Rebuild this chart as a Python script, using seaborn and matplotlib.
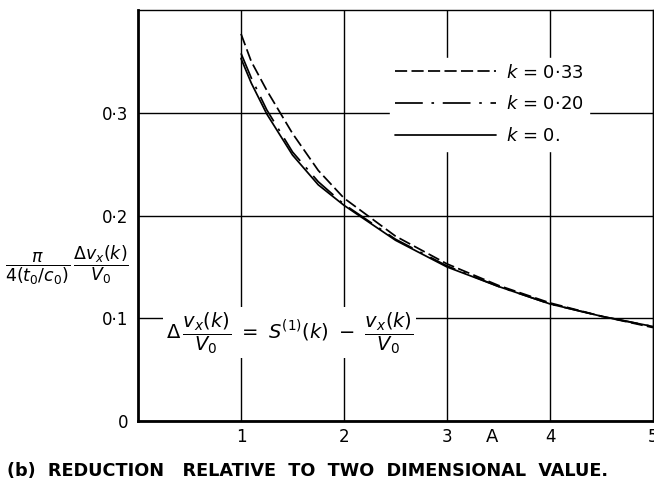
import matplotlib
matplotlib.use("Agg")
import matplotlib.pyplot as plt
import seaborn as sns
import pandas as pd

sns.set_theme(style="white")
plt.rcParams["font.family"] = ["DejaVu Sans"]
plt.rcParams["mathtext.fontset"] = "dejavusans"
plt.rcParams["text.color"] = "black"

# Aspect ratio A and reduced velocity increment for three values of k
aspect = [1.0, 1.1, 1.25, 1.5, 1.75, 2.0, 2.5, 3.0, 3.5, 4.0, 4.5, 5.0]
dv_k033 = [0.377, 0.350, 0.322, 0.280, 0.244, 0.217, 0.180, 0.153, 0.132, 0.115, 0.102, 0.091]
dv_k020 = [0.358, 0.334, 0.303, 0.262, 0.233, 0.211, 0.177, 0.151, 0.131, 0.114, 0.102, 0.092]
dv_k000 = [0.353, 0.329, 0.299, 0.259, 0.230, 0.210, 0.176, 0.150, 0.131, 0.114, 0.102, 0.092]

series_labels = [r"$k$ = 0·33", r"$k$ = 0·20", r"$k$ = 0."]
series_values = [dv_k033, dv_k020, dv_k000]
series_styles = [(0, (7, 2.5)), (0, (16, 5, 1.5, 5)), "-"]

x_ticks = [1, 2, 3, 4, 5]
x_ticklabels = ["1", "2", "3", "4", "5"]
y_ticks = [0.0, 0.1, 0.2, 0.3]
y_ticklabels = ["0", "0·1", "0·2", "0·3"]

fig = plt.figure(figsize=(6.54, 4.86), dpi=100)
ax = fig.add_axes([0.211, 0.1337, 0.7875, 0.8453])

for lab, vals, ls in zip(series_labels, series_values, series_styles):
    df = pd.DataFrame({"A": aspect, "dv": vals})
    sns.lineplot(data=df, x="A", y="dv", ax=ax, color="black", lw=1.25,
                 linestyle=ls, label=lab, zorder=3)

ax.set_xlim(0, 5)
ax.set_ylim(0, 0.4)
ax.set_xticks(x_ticks)
ax.set_xticklabels(x_ticklabels)
ax.set_yticks(y_ticks)
ax.set_yticklabels(y_ticklabels)
ax.tick_params(axis="both", length=0, labelsize=12, colors="black")
ax.tick_params(axis="x", pad=5)
ax.tick_params(axis="y", pad=7)
ax.set_xlabel("")
ax.set_ylabel("")

# grid lines through the interior
ax.grid(True, color="black", lw=1.0)
ax.set_axisbelow(True)

for side in ["left", "bottom"]:
    ax.spines[side].set_linewidth(2.0)
    ax.spines[side].set_color("black")
for side in ["top", "right"]:
    ax.spines[side].set_linewidth(1.0)
    ax.spines[side].set_color("black")

handles, labels = ax.get_legend_handles_labels()
leg = ax.legend(handles, labels, loc="upper left", bbox_to_anchor=(0.471, 0.905),
                fontsize=13, handlelength=5.6, handletextpad=0.55,
                labelspacing=0.76, borderpad=0.3, frameon=True,
                facecolor="white", edgecolor="white", framealpha=1.0,
                fancybox=False)
leg.set_zorder(5)

# defining relation written inside the plot
ax.text(1.47, 0.086,
        r"$\Delta\,\dfrac{v_x(k)}{V_0}\ =\ S^{(1)}(k)\ -\ \dfrac{v_x(k)}{V_0}$",
        ha="center", va="center", fontsize=14, color="black", zorder=4,
        bbox=dict(facecolor="white", edgecolor="none", pad=2))

fig.text(0.103, 0.455,
         r"$\dfrac{\pi}{4(t_0/c_0)}\,\dfrac{\Delta v_x(k)}{V_0}$",
         ha="center", va="center", fontsize=12.5, color="black")

fig.text(492 / 654, 1 - 437 / 486, "A", ha="center", va="center",
         fontsize=13, color="black")

fig.text(0.010, 1 - 471 / 486,
         "(b)  REDUCTION   RELATIVE  TO  TWO  DIMENSIONAL  VALUE.",
         ha="left", va="center", fontsize=12.7, fontweight="bold", color="black")

fig.savefig("out.png", dpi=100, facecolor="white")
